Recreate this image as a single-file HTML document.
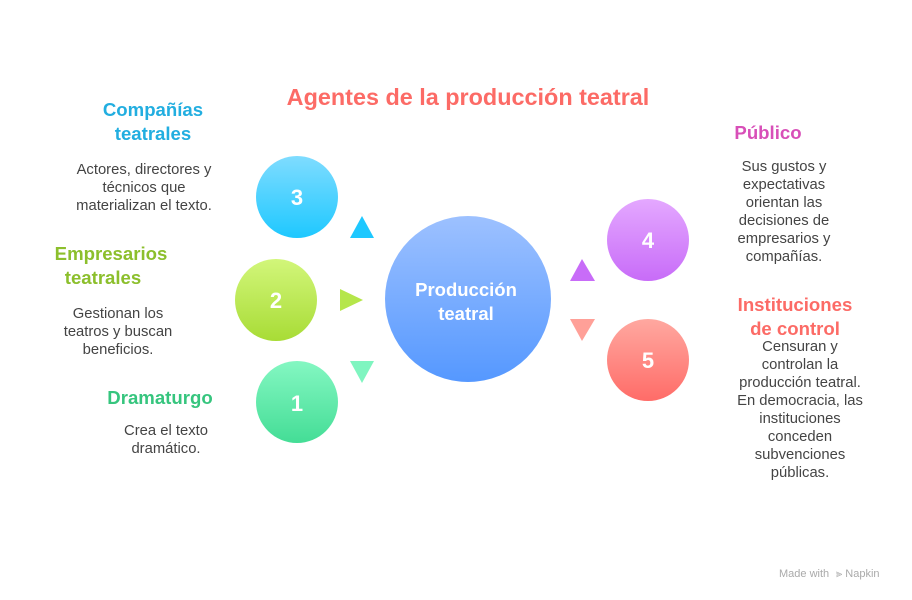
<!DOCTYPE html>
<html><head><meta charset="utf-8"><style>body{margin:0;background:#fff}svg{display:block}</style></head><body>
<svg width="912" height="600" viewBox="0 0 912 600" xmlns="http://www.w3.org/2000/svg" font-family="Liberation Sans, sans-serif">
<defs>
<linearGradient id="g3" x1="0" y1="0" x2="0" y2="1"><stop offset="0" stop-color="#7fdcff"/><stop offset="1" stop-color="#1ec8ff"/></linearGradient>
<linearGradient id="g2" x1="0" y1="0" x2="0" y2="1"><stop offset="0" stop-color="#d2f67a"/><stop offset="1" stop-color="#a8dc36"/></linearGradient>
<linearGradient id="g1" x1="0" y1="0" x2="0" y2="1"><stop offset="0" stop-color="#84f7c2"/><stop offset="1" stop-color="#44dd96"/></linearGradient>
<linearGradient id="gc" x1="0" y1="0" x2="0" y2="1"><stop offset="0" stop-color="#9dc1ff"/><stop offset="1" stop-color="#5598ff"/></linearGradient>
<linearGradient id="g4" x1="0" y1="0" x2="0" y2="1"><stop offset="0" stop-color="#e4a8ff"/><stop offset="1" stop-color="#c86cf8"/></linearGradient>
<linearGradient id="g5" x1="0" y1="0" x2="0" y2="1"><stop offset="0" stop-color="#ffa8a0"/><stop offset="1" stop-color="#ff6c68"/></linearGradient>
</defs>
<text x="468" y="105" text-anchor="middle" font-size="23.4" font-weight="bold" fill="#fc6b66">Agentes de la producción teatral</text>

<circle cx="297" cy="197" r="41" fill="url(#g3)"/>
<circle cx="276" cy="300" r="41" fill="url(#g2)"/>
<circle cx="297" cy="402" r="41" fill="url(#g1)"/>
<circle cx="468" cy="299" r="83" fill="url(#gc)"/>
<circle cx="648" cy="240" r="41" fill="url(#g4)"/>
<circle cx="648" cy="360" r="41" fill="url(#g5)"/>

<g fill="#fff" font-weight="bold" text-anchor="middle" font-size="22">
<text x="297" y="205">3</text><text x="276" y="308">2</text><text x="297" y="411">1</text>
<text x="648" y="248">4</text><text x="648" y="368">5</text>
<text x="466" y="296" font-size="18.5">Producción</text><text x="466" y="320" font-size="18.5">teatral</text>
</g>

<polygon points="362,216 374,238 350,238" fill="#1ec8ff"/>
<polygon points="340,289 363,300 340,311" fill="#b5e64a"/>
<polygon points="350,361 374,361 362,383" fill="#7ff5c0"/>
<polygon points="582,259 595,281 570,281" fill="#c86cf8"/>
<polygon points="570,319 595,319 582,341" fill="#ffa098"/>

<g font-weight="bold" font-size="18.6">
<text x="153" y="116" text-anchor="middle" fill="#22aee0">Compañías</text>
<text x="153" y="140" text-anchor="middle" fill="#22aee0">teatrales</text>
<text x="111" y="260" text-anchor="middle" fill="#8cbf2c">Empresarios</text>
<text x="103" y="284" text-anchor="middle" fill="#8cbf2c">teatrales</text>
<text x="160" y="404" text-anchor="middle" fill="#36c57e">Dramaturgo</text>
<text x="768" y="139" text-anchor="middle" fill="#d84fb8">Público</text>
<text x="795" y="311" text-anchor="middle" fill="#fc6b66">Instituciones</text>
<text x="795" y="335" text-anchor="middle" fill="#fc6b66">de control</text>
</g>
<g font-size="14.8" fill="#444" text-anchor="middle">
<text x="144" y="174">Actores, directores y</text>
<text x="144" y="192">técnicos que</text>
<text x="144" y="210">materializan el texto.</text>
<text x="118" y="318">Gestionan los</text>
<text x="118" y="336">teatros y buscan</text>
<text x="118" y="354">beneficios.</text>
<text x="166" y="435">Crea el texto</text>
<text x="166" y="453">dramático.</text>
<text x="784" y="171">Sus gustos y</text>
<text x="784" y="189">expectativas</text>
<text x="784" y="207">orientan las</text>
<text x="784" y="225">decisiones de</text>
<text x="784" y="243">empresarios y</text>
<text x="784" y="261">compañías.</text>
<text x="800" y="351">Censuran y</text>
<text x="800" y="369">controlan la</text>
<text x="800" y="387">producción teatral.</text>
<text x="800" y="405">En democracia, las</text>
<text x="800" y="423">instituciones</text>
<text x="800" y="441">conceden</text>
<text x="800" y="459">subvenciones</text>
<text x="800" y="477">públicas.</text>
</g>
<text x="779" y="577" font-size="11" fill="#aaa">Made with</text>
<text x="836" y="577" font-size="11" fill="#aaa">⫸ Napkin</text>
</svg>
</body></html>
